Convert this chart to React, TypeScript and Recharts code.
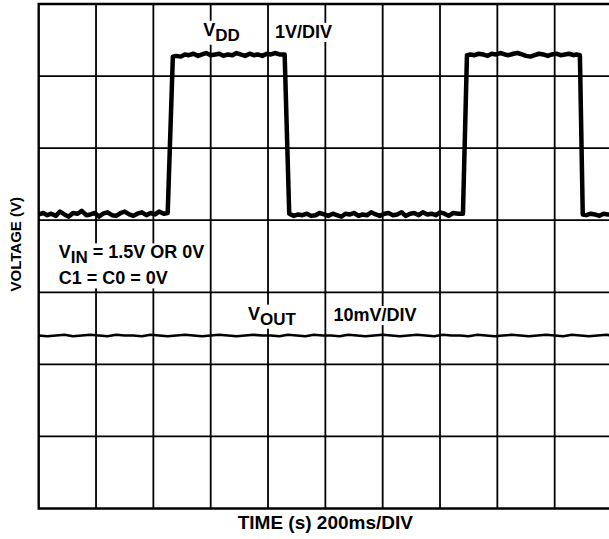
import React, { useLayoutEffect, useRef, useState } from "react";
import {
  ComposedChart,
  Line,
  XAxis,
  YAxis,
  ReferenceLine,
  ReferenceArea,
  ReferenceDot,
  Label,
} from "recharts";

// time in divisions (200ms/DIV), voltage in divisions from the bottom of the screen
const vddTime = [
  0, 0.08, 0.15, 0.22, 0.3, 0.37, 0.45, 0.52, 0.6, 0.68, 0.75, 0.83, 0.9, 0.98, 1.05, 1.12, 1.2, 1.28, 1.35,
  1.43, 1.5, 1.58, 1.65, 1.72, 1.8, 1.88, 1.95, 2.03, 2.1, 2.18,
  2.25, 2.34,
  2.4, 2.48, 2.55, 2.62, 2.7, 2.78, 2.85, 2.92, 3.0, 3.08, 3.15, 3.22, 3.3, 3.38, 3.45, 3.52, 3.6, 3.68, 3.75,
  3.82, 3.9, 3.98, 4.05, 4.12, 4.2,
  4.29, 4.37,
  4.45, 4.53, 4.6, 4.68, 4.75, 4.83, 4.9, 4.98, 5.05, 5.13, 5.2, 5.28, 5.35, 5.43, 5.5, 5.58, 5.65, 5.73, 5.8,
  5.88, 5.95, 6.03, 6.1, 6.18, 6.25, 6.33, 6.4, 6.48, 6.55, 6.63, 6.7, 6.78, 6.85, 6.93, 7.0, 7.08, 7.15, 7.23, 7.32,
  7.4, 7.47,
  7.53, 7.6, 7.68, 7.75, 7.83, 7.9, 7.98, 8.05, 8.13, 8.2, 8.28, 8.35, 8.43, 8.5, 8.58, 8.65, 8.73, 8.8, 8.88,
  8.95, 9.03, 9.1, 9.18, 9.25, 9.33, 9.38,
  9.44, 9.49,
  9.55, 9.63, 9.7, 9.78, 9.85, 9.93, 10,
];
const vddLevel = [
  4.08, 4.1, 4.07, 4.09, 4.06, 4.12, 4.08, 4.05, 4.1, 4.09, 4.13, 4.07, 4.08, 4.1, 4.05, 4.09, 4.11, 4.07, 4.06,
  4.1, 4.12, 4.08, 4.06, 4.09, 4.11, 4.07, 4.1, 4.08, 4.12, 4.09,
  4.1, 6.27,
  6.28, 6.27, 6.3, 6.29, 6.31, 6.28, 6.3, 6.32, 6.29, 6.3, 6.31, 6.28, 6.3, 6.29, 6.32, 6.3, 6.28, 6.31, 6.29,
  6.3, 6.28, 6.31, 6.3, 6.32, 6.3,
  6.3, 4.09,
  4.06, 4.08, 4.07, 4.09, 4.06, 4.07, 4.1, 4.08, 4.06, 4.09, 4.07, 4.05, 4.09, 4.08, 4.1, 4.06, 4.08, 4.07, 4.11,
  4.08, 4.06, 4.09, 4.1, 4.07, 4.08, 4.11, 4.06, 4.09, 4.1, 4.07, 4.11, 4.08, 4.09, 4.07, 4.11, 4.09, 4.06, 4.1, 4.09,
  4.09, 6.29,
  6.3, 6.29, 6.31, 6.3, 6.28, 6.31, 6.3, 6.32, 6.3, 6.29, 6.31, 6.32, 6.3, 6.28, 6.27, 6.29, 6.31, 6.3, 6.28,
  6.3, 6.31, 6.29, 6.3, 6.31, 6.29, 6.3,
  6.29, 4.08,
  4.07, 4.09, 4.08, 4.06, 4.09, 4.08, 4.08,
];

const voutTime = [
  0, 0.15, 0.3, 0.45, 0.6, 0.75, 0.9, 1.05, 1.2, 1.35, 1.5, 1.65, 1.8, 1.95, 2.1, 2.25, 2.4, 2.55, 2.7, 2.85, 3.0,
  3.15, 3.3, 3.45, 3.6, 3.75, 3.9, 4.05, 4.2, 4.35, 4.5, 4.65, 4.8, 4.95, 5.1, 5.25, 5.4, 5.55, 5.7, 5.85, 6.0,
  6.15, 6.3, 6.45, 6.6, 6.75, 6.9, 7.05, 7.2, 7.35, 7.5, 7.65, 7.8, 7.95, 8.1, 8.25, 8.4, 8.55, 8.7, 8.85, 9.0,
  9.15, 9.3, 9.45, 9.6, 9.75, 9.9, 10,
];
const voutLevel = [
  2.4, 2.39, 2.4, 2.41, 2.39, 2.4, 2.41, 2.4, 2.39, 2.41, 2.4, 2.4, 2.39, 2.41, 2.4, 2.39, 2.4, 2.41, 2.4, 2.39, 2.4,
  2.41, 2.4, 2.39, 2.4, 2.41, 2.4, 2.4, 2.39, 2.41, 2.4, 2.39, 2.41, 2.4, 2.4, 2.39, 2.41, 2.4, 2.39, 2.4, 2.41,
  2.4, 2.39, 2.4, 2.41, 2.4, 2.39, 2.41, 2.4, 2.4, 2.39, 2.41, 2.4, 2.39, 2.4, 2.41, 2.4, 2.39, 2.4, 2.41, 2.4,
  2.39, 2.41, 2.4, 2.39, 2.4, 2.41, 2.4,
];

const xDivisions = [1, 2, 3, 4, 5, 6, 7, 8, 9];
const yDivisions = [1, 2, 3, 4, 5, 6];

const vddData = vddTime.map((t, i) => ({ t, v: vddLevel[i] }));
const voutData = voutTime.map((t, i) => ({ t, v: voutLevel[i] }));

const FONT = "'Liberation Sans', Arial, sans-serif";

type NoteLine = { main: string; sub?: string; rest?: string };

// text block on the screen with the graticule knocked out behind it
const Note = ({ viewBox, lines }: { viewBox: any; lines: NoteLine[] }) => {
  const ref = useRef<SVGGElement>(null);
  const [box, setBox] = useState<{ x: number; y: number; w: number; h: number } | null>(null);
  const { x, y } = viewBox;

  useLayoutEffect(() => {
    if (ref.current) {
      const b = ref.current.getBBox();
      setBox({ x: b.x, y: b.y, w: b.width, h: b.height });
    }
  }, [x, y]);

  return (
    <g>
      {box && <rect x={box.x - 4} y={box.y + 1} width={box.w + 8} height={box.h - 1} fill="#fff" />}
      <g ref={ref}>
        {lines.map((l, i) => (
          <text key={i} x={x} y={y + i * 26} fontFamily={FONT} fontWeight="bold" fontSize={18} fill="#000">
            {l.main}
            {l.sub && (
              <tspan dy={5} fontSize={17}>
                {l.sub}
              </tspan>
            )}
            {l.rest && <tspan dy={l.sub ? -5 : 0}>{l.rest}</tspan>}
          </text>
        ))}
      </g>
    </g>
  );
};

const note = (lines: NoteLine[]) => (props: any) => <Note viewBox={props.viewBox} lines={lines} />;

const xTitle = (props: any) => {
  const { x, y, width, height } = props.viewBox;
  return (
    <text
      x={x + width / 2}
      y={y + height / 2 - 1}
      textAnchor="middle"
      dominantBaseline="central"
      fontFamily={FONT}
      fontWeight="bold"
      fontSize={19}
      fill="#000"
    >
      TIME (s) 200ms/DIV
    </text>
  );
};

const yTitle = (props: any) => {
  const { x, y, height } = props.viewBox;
  const cx = x + 15;
  const cy = y + height / 2 - 12;
  return (
    <text
      x={cx}
      y={cy}
      transform={`rotate(-90, ${cx}, ${cy})`}
      textAnchor="middle"
      dominantBaseline="central"
      fontFamily={FONT}
      fontWeight="bold"
      fontSize={15}
      fill="#000"
    >
      VOLTAGE (V)
    </text>
  );
};

export default function App() {
  return (
    <div style={{ position: "absolute", left: 0, top: 0, width: 609, height: 539, overflow: "hidden", background: "#fff" }}>
      <ComposedChart width={620} height={539} margin={{ top: 4, right: 8, left: 0, bottom: 0 }}>
        <XAxis
          type="number"
          dataKey="t"
          domain={[0, 10]}
          tick={false}
          tickLine={false}
          axisLine={false}
          height={30.5}
          allowDuplicatedCategory={false}
        >
          <Label content={xTitle} />
        </XAxis>
        <YAxis type="number" domain={[0, 7]} tick={false} tickLine={false} axisLine={false} width={38.7}>
          <Label content={yTitle} />
        </YAxis>

        {xDivisions.map((d) => (
          <ReferenceLine key={"x" + d} x={d} stroke="#000" strokeWidth={1.8} />
        ))}
        {yDivisions.map((d) => (
          <ReferenceLine key={"y" + d} y={d} stroke="#000" strokeWidth={1.8} />
        ))}
        <ReferenceArea x1={0} x2={10} y1={0} y2={7} fill="none" stroke="#000" strokeWidth={2.4} fillOpacity={0} />

        <ReferenceDot x={2.87} y={6.56} r={0} fill="none" stroke="none" label={{ content: note([{ main: "V", sub: "DD" }]) }} />
        <ReferenceDot x={4.12} y={6.53} r={0} fill="none" stroke="none" label={{ content: note([{ main: "1V/DIV" }]) }} />
        <ReferenceDot
          x={0.35}
          y={3.47}
          r={0}
          fill="none"
          stroke="none"
          label={{ content: note([{ main: "V", sub: "IN", rest: " = 1.5V OR 0V" }, { main: "C1 = C0 = 0V" }]) }}
        />
        <ReferenceDot x={3.65} y={2.62} r={0} fill="none" stroke="none" label={{ content: note([{ main: "V", sub: "OUT" }]) }} />
        <ReferenceDot x={5.14} y={2.6} r={0} fill="none" stroke="none" label={{ content: note([{ main: "10mV/DIV" }]) }} />

        <Line
          data={vddData}
          dataKey="v"
          type="linear"
          stroke="#000"
          strokeWidth={4.5}
          strokeLinejoin="round"
          dot={false}
          isAnimationActive={false}
        />
        <Line
          data={voutData}
          dataKey="v"
          type="linear"
          stroke="#000"
          strokeWidth={2.6}
          strokeLinejoin="round"
          dot={false}
          isAnimationActive={false}
        />
      </ComposedChart>
    </div>
  );
}
